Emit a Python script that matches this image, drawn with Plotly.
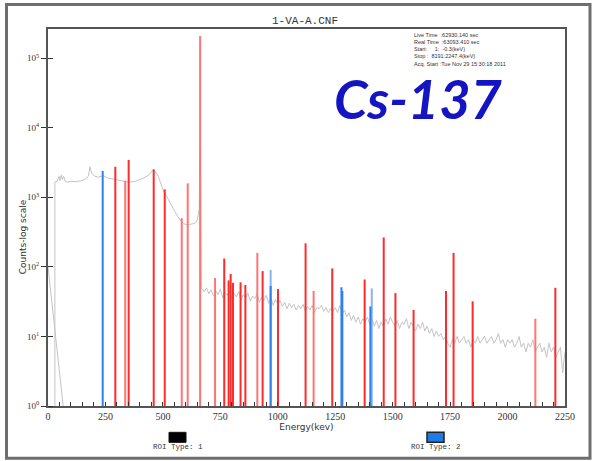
import plotly.graph_objects as go

# ---------------- data ----------------
# smooth low-energy part of the background spectrum (keV, counts)
spec_lo_energy = [30, 30, 40, 48, 52, 58, 62, 68, 75, 85, 100, 120, 140, 160, 175, 183, 190, 205,
                  220, 240, 260, 290, 320, 350, 380, 410, 440, 457, 465, 480, 500, 520, 545, 560,
                  575, 590, 605, 620, 635, 648, 655, 658, 661, 664, 667]
spec_lo_counts = [1, 1660, 1700, 2000, 1750, 2100, 1800, 2000, 1700, 1650, 1700, 1680, 1720, 1800,
                  2000, 2750, 2200, 2000, 1950, 2050, 1900, 1800, 1700, 1650, 1700, 1850, 2100, 2500,
                  2400, 2000, 1300, 1000, 690, 560, 470, 420, 400, 410, 420, 450, 550, 660, 5000,
                  5000, 49]

# noisy high-energy part, one value every 10 keV from 670 to 2250 keV
spec_hi_start = 670
spec_hi_step = 10
spec_hi_counts = [
    49, 44, 50, 41, 47, 38, 45, 40, 48, 36, 43, 39, 46, 35, 42, 37, 44, 33, 40, 36, 42, 32, 38, 35,
    41, 31, 37, 33, 39, 30, 36, 28, 34, 29,
    33, 27, 31, 25, 30, 26, 29, 24, 28, 25, 29, 23, 27, 24, 28, 22, 26, 25, 28, 23, 26, 22, 25, 23, 26,
    22, 28, 21, 24, 19, 22, 17, 20, 16, 19, 15, 18, 16, 19, 15,
    18, 14, 17, 13, 16, 14, 18, 15, 19, 16, 14, 17, 13, 16, 15, 18, 13, 16, 14, 12,
    15, 13, 16, 12, 14, 11, 13, 10, 12, 10,
    11, 9, 10, 8, 7, 9, 8, 10, 8, 9,
    10, 8, 9, 7, 9, 8, 10, 8, 9, 10, 8, 9, 10, 8, 9, 11, 8, 9, 7, 9,
    8, 9, 7, 8, 10, 7, 8, 6, 8, 7, 9, 6, 7, 8, 6, 7, 5, 8, 6, 7, 5, 6, 7, 3, 6]

# low-energy tail curve
tail_energy = [0, 66]
tail_counts = [100, 1]

# ROI type 2 (red) peaks
red_energy = [293, 351, 460, 508, 767, 786, 795, 805, 838, 859, 934, 1001, 1121, 1237, 1378,
              1461, 1512, 1591, 1732, 1765, 1848, 2208]
red_counts = [2750, 3450, 2520, 1300, 132, 64, 79, 59, 60, 55, 87, 48, 218, 95, 66,
              265, 42, 24, 45, 159, 32, 50]
pink_energy = [336, 582, 608, 662, 727, 911, 1156, 2121]
pink_counts = [1740, 500, 1590, 209000, 69, 159, 45, 18]

# ROI type (blue) peaks
lightblue_energy = [969, 1409]
lightblue_counts = [90, 49]
blue_energy = [238, 969, 1277, 1281, 1403]
blue_counts = [2400, 53, 51, 45, 27]

title_text = "1-VA-A.CNF"
info_lines = ["Live Time  :62930.140 sec",
              "Real Time  :63093.410 sec",
              "Start:     1:  -0.3(keV)",
              "Stop :  8191:2247.4(keV)",
              "Acq. Start :Tue Nov 29 15:30:18 2011"]
isotope = "Cs-137"
x_ticks = [0, 250, 500, 750, 1000, 1250, 1500, 1750, 2000, 2250]
y_ticks = [1, 10, 100, 1000, 10000, 100000]
y_tick_text = ["10<sup>0</sup>", "10<sup>1</sup>", "10<sup>2</sup>", "10<sup>3</sup>",
               "10<sup>4</sup>", "10<sup>5</sup>"]
legend_labels = ["ROI Type: 1", "ROI Type: 2"]


def spikes(energies, counts):
    xs, ys = [], []
    for e, c in zip(energies, counts):
        xs += [e, e, None]
        ys += [1, c, None]
    return xs, ys


fig = go.Figure()

spec_hi_energy = [spec_hi_start + i * spec_hi_step for i in range(len(spec_hi_counts))]
fig.add_trace(go.Scatter(x=tail_energy, y=tail_counts, mode="lines",
                         line=dict(color="#c4c4c4", width=1), hoverinfo="skip"))
fig.add_trace(go.Scatter(x=spec_lo_energy + spec_hi_energy, y=spec_lo_counts + spec_hi_counts,
                         mode="lines", line=dict(color="#c4c4c4", width=1), hoverinfo="skip"))

for en, co, col in [(pink_energy, pink_counts, "#ff7474"),
                    (red_energy, red_counts, "#ff2a2a"),
                    (lightblue_energy, lightblue_counts, "#86b4f4"),
                    (blue_energy, blue_counts, "#2f7ff0")]:
    xs, ys = spikes(en, co)
    fig.add_trace(go.Scatter(x=xs, y=ys, mode="lines", line=dict(color=col, width=2),
                             hoverinfo="skip"))

# geometry helpers (pixel -> paper)
L, R, T, B = 48, 565, 29, 405.7
W, H = R - L, B - T


def px(x):
    return (x - L) / W


def py(y):
    return (B - y) / H


fig.update_layout(
    width=593, height=461,
    margin=dict(l=L, r=593 - R, t=T, b=461 - B),
    paper_bgcolor="white", plot_bgcolor="white",
    showlegend=False,
    xaxis=dict(range=[0, 2250], tickvals=x_ticks, ticks="inside", ticklen=4, tickcolor="#333",
               showgrid=False, zeroline=False, showline=True, linecolor="#555", linewidth=2,
               mirror=True,
               minor=dict(dtick=50, ticks="inside", ticklen=4, tickcolor="#333", showgrid=False),
               tickfont=dict(family="Liberation Serif", size=10, color="#333"),
               title=dict(text="Energy(kev)", standoff=2,
                          font=dict(family="DejaVu Sans", size=9, color="#333"))),
    yaxis=dict(type="log", range=[0, 5.42], tickvals=y_ticks, ticktext=y_tick_text,
               ticks="outside", ticklen=5, tickcolor="#333",
               showgrid=False, zeroline=False, showline=True, linecolor="#555", linewidth=2,
               mirror=True,
               minor=dict(tickvals=y_ticks, ticks="inside", ticklen=5, tickcolor="#333",
                          showgrid=False),
               tickfont=dict(family="Liberation Serif", size=9, color="#333")),
)

shapes = [
    # outer frame
    dict(type="rect", xref="paper", yref="paper", x0=px(6.5), x1=px(590), y0=py(458), y1=py(4.5),
         line=dict(color="#6e6e6e", width=3), fillcolor="rgba(0,0,0,0)", layer="above"),
    # legend boxes
    dict(type="rect", xref="paper", yref="paper", x0=px(169), x1=px(186), y0=py(442), y1=py(432),
         line=dict(color="#111", width=1), fillcolor="#000"),
    dict(type="rect", xref="paper", yref="paper", x0=px(427), x1=px(444), y0=py(442), y1=py(432),
         line=dict(color="#222", width=1.5), fillcolor="#1d7ae6"),
]
fig.update_layout(shapes=shapes)

annotations = [
    dict(text=title_text, x=px(305), y=py(21.5), xref="paper", yref="paper", showarrow=False,
         font=dict(family="Liberation Mono", size=11, color="#333"), xanchor="center",
         yanchor="middle"),
    dict(text="<br>".join(info_lines), x=px(412), y=py(30), xref="paper", yref="paper",
         showarrow=False, align="left", xanchor="left", yanchor="top",
         font=dict(family="Liberation Sans", size=5.5, color="#333")),
    dict(text=isotope, x=px(418), y=py(98), xref="paper", yref="paper", showarrow=False,
         xanchor="center", yanchor="middle",
         font=dict(family="Lato", size=54, color="#1414c3", weight="bold", style="italic")),
    dict(text="Counts-log scale", x=px(23), y=py(237), xref="paper", yref="paper",
         showarrow=False, textangle=-90, xanchor="center", yanchor="middle",
         font=dict(family="DejaVu Sans", size=9, color="#333")),
    dict(text=legend_labels[0], x=px(177.5), y=py(447), xref="paper", yref="paper",
         showarrow=False, xanchor="center", yanchor="middle",
         font=dict(family="Liberation Mono", size=7.5, color="#333")),
    dict(text=legend_labels[1], x=px(435.5), y=py(447), xref="paper", yref="paper",
         showarrow=False, xanchor="center", yanchor="middle",
         font=dict(family="Liberation Mono", size=7.5, color="#333")),
]
fig.update_layout(annotations=annotations)

fig.write_html("out.html")
